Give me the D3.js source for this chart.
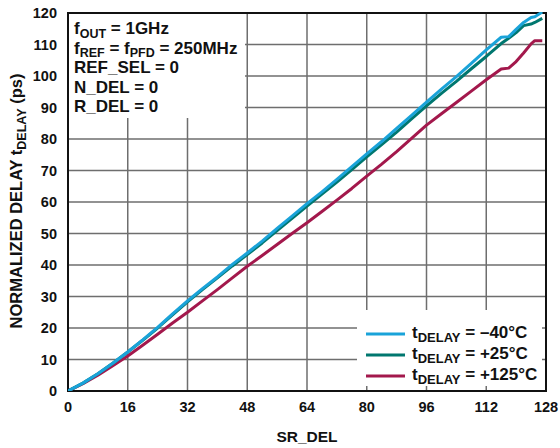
<html>
<script src="https://d3js.org/d3.v7.min.js"></script>
<style>
  body { margin: 0; background: #fff; }
  text { font-family: "Liberation Sans", Arial, sans-serif; font-weight: bold; fill: #111; }
</style>
<body>
<svg id="chart" width="560" height="448"></svg>
<script>
// SR_DEL codes where the curves were read
var srDel = [0, 4, 8, 12, 16, 20, 24, 28, 32, 36, 40, 44, 48, 52, 56, 60, 64, 68, 72, 76, 80,
             84, 88, 92, 96, 100, 104, 108, 112, 116, 118, 120, 122, 124, 125, 127];
var delayM40 = [0, 2.5, 5.5, 8.8, 12.4, 16.2, 20.2, 24.5, 28.6, 32.5, 36.2, 40.2, 43.8, 47.6, 51.6, 55.5, 59.5, 63.2, 67.2, 71.2, 75.3,
                79.2, 83.4, 87.5, 91.7, 95.8, 99.8, 104.0, 108.3, 112.3, 112.5, 114.8, 117.0, 118.6, 118.8, 120.3];
var delayP25 = [0, 2.5, 5.5, 8.8, 12.4, 16.1, 20.0, 24.2, 28.3, 32.2, 35.9, 39.7, 43.3, 47.0, 50.9, 54.8, 58.7, 62.5, 66.3, 70.3, 74.3,
                78.2, 82.2, 86.4, 90.5, 94.5, 98.3, 102.3, 106.2, 110.3, 112.0, 113.8, 116.0, 116.5, 117.0, 118.3];
var delayP125 = [0, 2.3, 5.0, 8.0, 11.1, 14.5, 18.0, 21.6, 25.0, 28.6, 32.2, 35.9, 39.6, 43.0, 46.5, 50.0, 53.4, 57.0, 60.6, 64.3, 68.2,
                 72.0, 76.0, 80.2, 84.4, 88.0, 91.6, 95.2, 98.8, 102.2, 102.5, 104.6, 107.3, 110.2, 111.2, 111.2];
var xTicks = [0, 16, 32, 48, 64, 80, 96, 112, 128];
var yTicks = [0, 10, 20, 30, 40, 50, 60, 70, 80, 90, 100, 110, 120];
var seriesNames = ["\u201340\u00b0C", "+25\u00b0C", "+125\u00b0C"];
var seriesColors = ["#1aa3d9", "#00776f", "#a3184c"];
var notes = [["f", "OUT", " = 1GHz"], ["f", "REF", " = f", "PFD", " = 250MHz"], ["REF_SEL = 0"], ["N_DEL = 0"], ["R_DEL = 0"]];

var svg = d3.select("#chart");
var plotL = 68, plotR = 546, plotT = 13, plotB = 391;

var x = d3.scaleLinear().domain([0, 128]).range([plotL, plotR]);
var y = d3.scaleLinear().domain([0, 120]).range([plotB, plotT]);

// grid
svg.append("g").selectAll("line").data(xTicks).enter().append("line")
  .attr("x1", function(d) { return x(d); }).attr("x2", function(d) { return x(d); })
  .attr("y1", plotT).attr("y2", plotB)
  .attr("stroke", "#6e6e6e").attr("stroke-width", 1.5);
svg.append("g").selectAll("line").data(yTicks).enter().append("line")
  .attr("x1", plotL).attr("x2", plotR)
  .attr("y1", function(d) { return y(d); }).attr("y2", function(d) { return y(d); })
  .attr("stroke", "#6e6e6e").attr("stroke-width", 1.5);

// white boxes behind the notes and legend
svg.append("rect").attr("x", plotL).attr("y", plotT).attr("width", 177).attr("height", 105).attr("fill", "#fff");
svg.append("rect").attr("x", 357).attr("y", 310).attr("width", 185).attr("height", 76).attr("fill", "#fff");

// frame
svg.append("rect").attr("x", plotL).attr("y", plotT).attr("width", plotR - plotL).attr("height", plotB - plotT)
  .attr("fill", "none").attr("stroke", "#111").attr("stroke-width", 2);

// tick labels
svg.append("g").selectAll("text").data(yTicks).enter().append("text")
  .attr("x", 57).attr("y", function(d) { return y(d) + 5; })
  .attr("text-anchor", "end").attr("font-size", 14.5)
  .text(function(d) { return d; });
svg.append("g").selectAll("text").data(xTicks).enter().append("text")
  .attr("x", function(d) { return x(d); }).attr("y", 412)
  .attr("text-anchor", "middle").attr("font-size", 14.5)
  .text(function(d) { return d; });

// axis titles
svg.append("text").attr("x", 307).attr("y", 442).attr("text-anchor", "middle")
  .attr("font-size", 15.5).text("SR_DEL");
var yt = svg.append("text").attr("transform", "translate(22,201) rotate(-90)")
  .attr("text-anchor", "middle").attr("font-size", 16.5);
yt.append("tspan").text("NORMALIZED DELAY t");
yt.append("tspan").attr("font-size", 12.5).attr("dy", 4).text("DELAY");
yt.append("tspan").attr("dy", -4).text(" (ps)");

// curves
var allSeries = [delayM40, delayP25, delayP125];
var line = d3.line()
  .x(function(d) { return x(d[0]); })
  .y(function(d) { return y(d[1]); });
svg.append("clipPath").attr("id", "plotclip").append("rect")
  .attr("x", plotL).attr("y", plotT - 1).attr("width", plotR - plotL).attr("height", plotB - plotT + 1);
allSeries.slice().reverse().forEach(function(vals, k) {
  var i = allSeries.length - 1 - k;
  svg.append("path")
    .datum(srDel.map(function(s, j) { return [s, vals[j]]; }))
    .attr("d", line)
    .attr("clip-path", "url(#plotclip)")
    .attr("fill", "none").attr("stroke", seriesColors[i]).attr("stroke-width", 3)
    .attr("stroke-linejoin", "round");
});

// notes
notes.forEach(function(parts, i) {
  var t = svg.append("text").attr("x", 74).attr("y", 34 + i * 19.5).attr("font-size", 17);
  parts.forEach(function(p, j) {
    var sub = parts.length > 1 && j % 2 === 1;
    t.append("tspan").attr("font-size", sub ? 12.5 : 17).attr("dy", sub ? 3.5 : (j > 0 ? -3.5 : 0)).text(p);
  });
});

// legend
seriesNames.forEach(function(name, i) {
  var ly = 334 + i * 21;
  svg.append("line").attr("x1", 366).attr("x2", 405).attr("y1", ly).attr("y2", ly)
    .attr("stroke", seriesColors[i]).attr("stroke-width", 3);
  var t = svg.append("text").attr("x", 412).attr("y", ly + 4).attr("font-size", 17);
  t.append("tspan").text("t");
  t.append("tspan").attr("font-size", 13).attr("dy", 4).text("DELAY");
  t.append("tspan").attr("dy", -4).text(" = " + name);
});
</script>
</body>
</html>
